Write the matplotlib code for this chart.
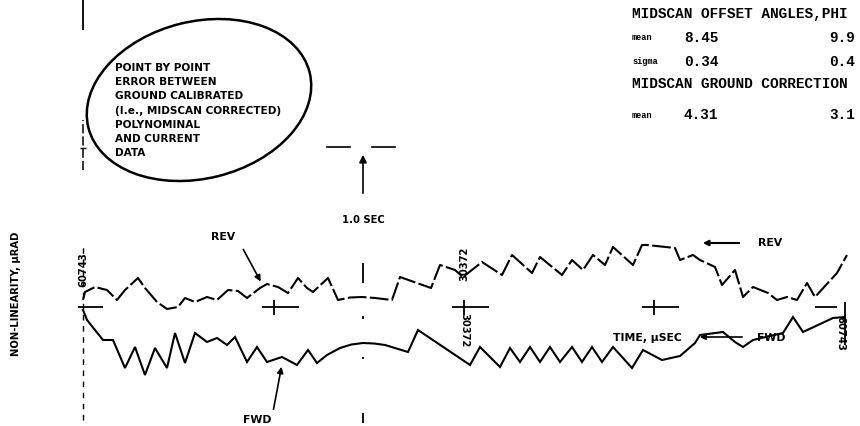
import matplotlib.pyplot as plt
from matplotlib.patches import Ellipse

# Non-linearity trace, point by point error (time in usec, error in urad)
rev_t = [0, 159, 957, 1913, 2710, 3348, 4384, 4942, 5899, 6696, 7573, 8131,
         8928, 9885, 10682, 11559, 12356, 13073, 14110, 14668, 15544, 16342,
         17139, 17856, 18334, 19530, 20327, 21284, 22240, 23277, 24632, 25270,
         27741, 28458, 29654, 30292, 31806, 33400, 34198, 35792, 36430, 38183,
         38980, 39858, 40655, 41611, 42249, 43843, 44561, 44959, 47191, 47590,
         48626, 49184, 50380, 50938, 51974, 52612, 53409, 54605, 55322, 56119,
         56917, 57714, 58351, 60105, 60902]
rev_v = [0.7, 1.5, 2.0, 1.7, 0.7, 1.7, 2.9, 1.9, 0.5, -0.2, 0.0, 0.9,
         0.5, 1.0, 0.7, 1.7, 1.6, 0.9, 1.9, 2.3, 2.0, 1.4,
         2.9, 1.9, 1.5, 2.9, 0.7, 0.95, 1.0, 0.9, 0.7, 3.0,
         1.9, 4.2, 3.7, 3.0, 4.5, 3.2, 5.2, 3.4, 5.0, 3.2,
         4.7, 3.7, 5.2, 4.2, 6.0, 4.2, 6.2, 6.2, 5.9, 4.7,
         5.2, 4.7, 4.0, 2.2, 3.7, 1.0, 2.0, 1.4, 0.7, 1.0,
         0.7, 2.4, 1.0, 3.4, 5.2]

fwd_t = [0, 159, 319, 1594, 2391, 3348, 4145, 4942, 5739, 6696, 7334, 8131,
         8928, 9885, 10682, 11479, 12117, 13073, 13870, 14668, 15863, 17059,
         17936, 18653, 19450, 20487, 21400, 22320, 23200, 24074, 25907, 26705,
         30850, 31647, 33241, 34038, 34835, 35633, 36430, 37227, 38024, 38981,
         39778, 40575, 41372, 42249, 43764, 44640, 46155, 47590, 48786, 49184,
         51018, 51974, 52612, 53409, 55800, 56598, 57395, 59786, 60743]
fwd_v = [-0.3, -0.8, -1.3, -3.3, -3.3, -6.1, -4.0, -6.8, -4.1, -6.1, -2.6, -5.6,
         -2.6, -3.5, -3.1, -3.8, -3.0, -5.5, -4.0, -5.5, -5.0, -5.8,
         -4.3, -5.6, -4.8, -4.1, -3.75, -3.6, -3.65, -3.8, -4.5, -2.3,
         -5.8, -4.0, -6.0, -4.1, -5.5, -4.0, -5.5, -4.0, -5.5, -4.0,
         -5.5, -4.0, -5.5, -4.0, -6.1, -4.3, -5.3, -4.9, -3.6, -2.8,
         -2.5, -3.5, -4.0, -3.3, -2.6, -1.0, -2.5, -1.1, -1.0]

# quarter marks along the time axis and the 1.0 sec marker
quarter_t = [15186, 30372, 45557]
sec_t = 22320
end_label = "60743"
mid_label = "30372"

# midscan statistics block
stats_rows = [
    ("MIDSCAN OFFSET ANGLES,PHI", None, None),
    ("mean", "8.45", "9.9"),
    ("sigma", "0.34", "0.4"),
    ("MIDSCAN GROUND CORRECTION", None, None),
    ("mean", "4.31", "3.1"),
]
note_lines = ["POINT BY POINT", "ERROR BETWEEN", "GROUND CALIBRATED",
              "(I.e., MIDSCAN CORRECTED)", "POLYNOMINAL", "AND CURRENT", "DATA"]

W, H = 860, 426
fig = plt.figure(figsize=(W / 100, H / 100), dpi=100)
fig.patch.set_facecolor("white")

# data axes: 762 px covers 60743 usec, 10 px per urad, zero line at 307 px
sx = 60743 / 762.0
ax = fig.add_axes([0, 0, 1, 1])
ax.set_xlim(-83 * sx, (W - 83) * sx)
ax.set_ylim((307 - H) / 10.0, 307 / 10.0)
ax.axis("off")

# overlay in pixel units for the hand-drawn notes
ann = fig.add_axes([0, 0, 1, 1], zorder=3)
ann.set_xlim(0, W)
ann.set_ylim(H, 0)
ann.axis("off")
ann.patch.set_alpha(0)

lw = 1.5
ax.plot(rev_t, rev_v, color="black", lw=lw, ls=(0, (9, 1.6)),
        solid_joinstyle="miter")
ax.plot(fwd_t, fwd_v, color="black", lw=lw, solid_joinstyle="miter")

# zero line pieces and crosses
ax.hlines(0, -5 * sx, 20 * sx, color="black", lw=1.3)
for q in quarter_t:
    ax.hlines(0, q - 12 * sx, q + 25 * sx, color="black", lw=1.3)
    ax.vlines(q, -0.8, 0.7, color="black", lw=1.3)
ax.hlines(0, 60743 - 30 * sx, 60743 - 8 * sx, color="black", lw=1.3)
ax.vlines(60743, -3.8, 0.5, color="black", lw=1.3)
ax.vlines(0, -11.3, 6.4, color="black", lw=1.0, ls=(0, (4, 4)))
ax.vlines(0, 13.7, 18.7, color="black", lw=1.1, ls=(0, (6, 2)))
ax.vlines(0, 27.7, 30.7, color="black", lw=1.3)
ax.hlines(15.9, -3 * sx, 3 * sx, color="black", lw=1.0)
for lo, hi in [(2.4, 4.4), (-1.2, -0.9), (-5.2, -5.0), (-11.6, -10.6)]:
    ax.vlines(sec_t, lo, hi, color="black", lw=1.3)

bold = dict(family="DejaVu Sans", fontweight="bold", color="black")
ax.text(0, 3.7, end_label, rotation=90, ha="center", va="center", fontsize=7.2, **bold)
ax.text(30372, 4.3, mid_label, rotation=90, ha="center", va="center", fontsize=7.2, **bold)
ax.text(30372, -2.3, mid_label, rotation=270, ha="center", va="center", fontsize=7.2, **bold)
ax.text(60743 - 5 * sx, -2.6, end_label, rotation=270, ha="center", va="center",
        fontsize=7.2, **bold)

# note in the blob
ann.add_patch(Ellipse((199, 100), 228, 157, angle=-14, fill=False,
                      ec="black", lw=1.8))
for i, line in enumerate(note_lines):
    ann.text(115, 68 + i * 14.2, line, ha="left", va="center", fontsize=7.6, **bold)

# 1.0 sec marker
ann.plot([327, 350], [147, 147], color="black", lw=1.2)
ann.plot([372, 395], [147, 147], color="black", lw=1.2)
ann.annotate("", xy=(363, 152), xytext=(363, 196),
             arrowprops=dict(arrowstyle="-|>", color="black", lw=1.2,
                             mutation_scale=11))
ann.text(363, 220, "1.0 SEC", ha="center", va="center", fontsize=7.2, **bold)

# curve labels
ann.text(223, 237, "REV", ha="center", va="center", fontsize=7.8, **bold)
ann.annotate("", xy=(262, 284), xytext=(242, 247),
             arrowprops=dict(arrowstyle="-|>", color="black", lw=1.2,
                             mutation_scale=9))
ann.text(257, 420, "FWD", ha="center", va="center", fontsize=7.8, **bold)
ann.annotate("", xy=(282, 364), xytext=(273, 412),
             arrowprops=dict(arrowstyle="-|>", color="black", lw=1.2,
                             mutation_scale=9))
ann.annotate("", xy=(700, 243), xytext=(742, 243),
             arrowprops=dict(arrowstyle="-|>", color="black", lw=1.5,
                             mutation_scale=8))
ann.text(770, 243, "REV", ha="center", va="center", fontsize=7.8, **bold)
ann.text(647, 338, "TIME, \u00b5SEC", ha="center", va="center", fontsize=7.8, **bold)
ann.annotate("", xy=(697, 337), xytext=(745, 337),
             arrowprops=dict(arrowstyle="-|>", color="black", lw=1.2,
                             mutation_scale=8))
ann.text(771, 338, "FWD", ha="center", va="center", fontsize=7.8, **bold)

ann.text(16, 294, "NON-LINEARITY, \u00b5RAD", rotation=90, ha="center",
         va="center", fontsize=7.2, **bold)

# statistics printout
mono = dict(family="Liberation Mono", fontweight="bold", color="black")
row_y = [14, 38, 62, 84, 115]
for (lab, v1, v2), y in zip(stats_rows, row_y):
    if v1 is None:
        ann.text(632, y, lab, ha="left", va="center", fontsize=10.4, **mono)
    else:
        ann.text(632, y, lab, ha="left", va="center", fontsize=6.2, **mono)
        ann.text(684, y, v1, ha="left", va="center", fontsize=10.4, **mono)
        ann.text(829, y, v2, ha="left", va="center", fontsize=10.4, **mono)

fig.savefig("out.png", dpi=100, facecolor="white")
